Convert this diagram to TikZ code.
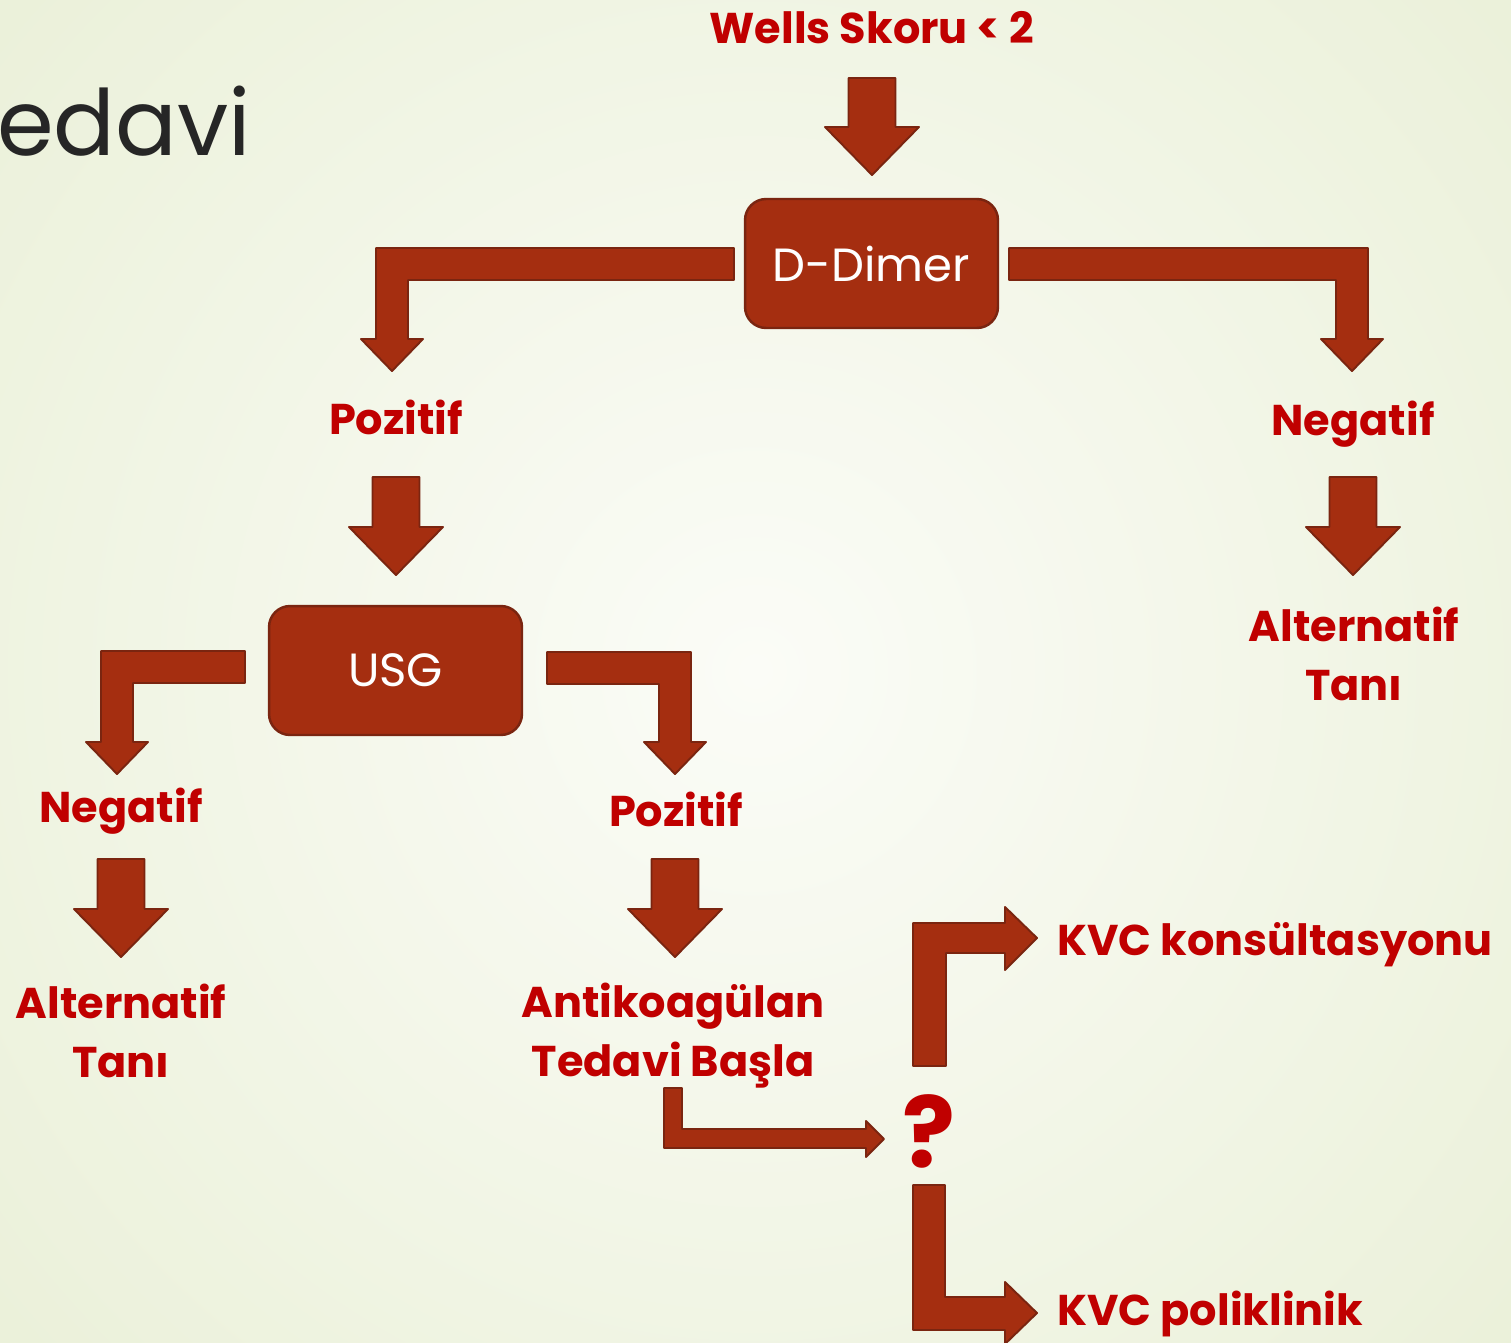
\documentclass[tikz,border=0pt]{standalone}
\usepackage{fontspec}
\setmainfont{Poppins}
\definecolor{arrowred}{RGB}{165,46,16}
\definecolor{arrowedge}{RGB}{122,37,16}
\definecolor{labelred}{RGB}{192,0,0}
\definecolor{titlegray}{RGB}{38,38,38}
\definecolor{bgedge}{RGB}{234,240,216}
\definecolor{bgmid}{RGB}{251,252,247}
\tikzset{
  fatarrow/.style={fill=arrowred, draw=arrowedge, line width=1.1pt, line join=round},
  stepbox/.style={fill=arrowred, draw=arrowedge, line width=1.4pt, rounded corners=12pt,
    minimum width=5.06cm, minimum height=2.58cm, text=white, inner sep=0pt,
    font=\fontsize{26.5}{32}\selectfont},
  lbl/.style={text=labelred, font=\bfseries\fontsize{24.5}{33.5}\selectfont, align=center, inner sep=0pt},
  lblleft/.style={lbl, anchor=west},
}
% straight fat arrow pointing down: centre x, top y, tip y
\newcommand{\fatdown}[3]{%
  \draw[fatarrow] ({#1-23.5},{#2}) -- ({#1+23.5},{#2}) -- ({#1+23.5},{#3-48})
    -- ({#1+47},{#3-48}) -- ({#1},{#3}) -- ({#1-47},{#3-48}) -- ({#1-23.5},{#3-48}) -- cycle;}
\begin{document}
\begin{tikzpicture}[x=0.02cm,y=-0.02cm]
  % page and background
  \useasboundingbox (0,0) rectangle (1511,1342);
  \clip (0,0) rectangle (1511,1342);
  \shade[inner color=bgmid, outer color=bgedge] (-300,-400) rectangle (1811,1742);

  % slide title
  \node[anchor=base west, inner sep=0pt, text=titlegray, font=\fontsize{52}{60}\selectfont] (title) at (-3,155) {edavi};

  % top of the flow
  \node[lbl] (wells) at (872,28) {Wells Skoru < 2};
  \fatdown{872}{78}{175}
  \node[stepbox] (ddimer) at (871.5,263.5) {D-Dimer};

  % D-Dimer branches
  \draw[fatarrow] (734,248) -- (376,248) -- (376,339) -- (361,339) -- (392,371)
    -- (423,339) -- (408,339) -- (408,280) -- (734,280) -- cycle;
  \draw[fatarrow] (1009,248) -- (1368,248) -- (1368,339) -- (1383,339) -- (1352,371)
    -- (1321,339) -- (1336,339) -- (1336,280) -- (1009,280) -- cycle;
  \node[lbl] (poz1) at (396,417) {Pozitif};
  \node[lbl] (neg1) at (1353,424) {Negatif};
  \fatdown{396}{477}{575}
  \fatdown{1353}{477}{575}
  \node[lbl] (alt1) at (1354,654) {Alternatif\\Tanı};
  \node[stepbox] (usg) at (395.5,670.5) {USG};

  % USG branches
  \draw[fatarrow] (245,651) -- (101,651) -- (101,742) -- (86,742) -- (117,774)
    -- (148,742) -- (133,742) -- (133,683) -- (245,683) -- cycle;
  \draw[fatarrow] (547,652) -- (691,652) -- (691,742) -- (706,742) -- (675,774)
    -- (644,742) -- (659,742) -- (659,684) -- (547,684) -- cycle;
  \node[lbl] (neg2) at (121,811) {Negatif};
  \node[lbl] (poz2) at (676,809) {Pozitif};
  \fatdown{121}{859}{957}
  \fatdown{675}{859}{957}
  \node[lbl] (alt2) at (121,1031) {Alternatif\\Tanı};
  \node[lbl] (antiko) at (673,1036) {Antikoagülan\\Tedavi Başla};

  % follow-up after anticoagulation
  \draw[fatarrow] (664,1088) -- (682,1088) -- (682,1129) -- (866,1129) -- (866,1121)
    -- (884,1139) -- (866,1157) -- (866,1148) -- (664,1148) -- cycle;
  \node[text=labelred, font=\bfseries\fontsize{56}{60}\selectfont, inner sep=0pt] (q) at (929,1131) {?};
  \draw[fatarrow] (913,1066) -- (913,923) -- (1005,923) -- (1005,907) -- (1037,938)
    -- (1005,970) -- (1005,953) -- (946,953) -- (946,1066) -- cycle;
  \draw[fatarrow] (913,1185) -- (945,1185) -- (945,1297) -- (1005,1297) -- (1005,1282)
    -- (1037,1313) -- (1005,1344) -- (1005,1330) -- (913,1330) -- cycle;
  \node[lblleft] (kons) at (1057,945) {KVC konsültasyonu};
  \node[lblleft] (poli) at (1057,1314) {KVC poliklinik};
\end{tikzpicture}
\end{document}
